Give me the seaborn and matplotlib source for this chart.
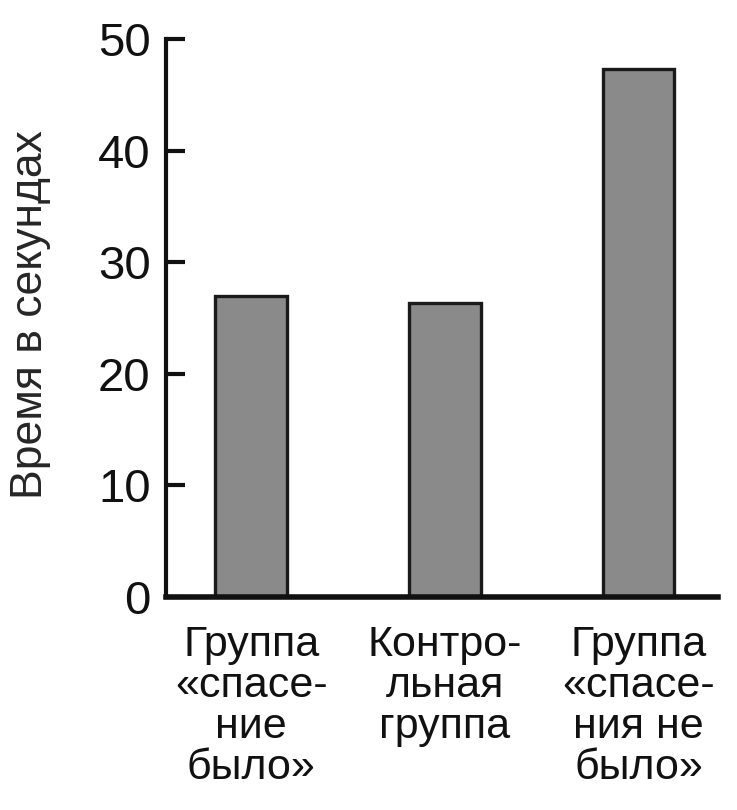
import matplotlib
matplotlib.use("Agg")
import matplotlib.pyplot as plt
import seaborn as sns
import pandas as pd

categories = ["Группа\n«спасе-\nние\nбыло»", "Контро-\nльная\nгруппа", "Группа\n«спасе-\nния не\nбыло»"]
values = [27.0, 26.3, 47.3]
yticks = [0, 10, 20, 30, 40, 50]
ylabel = "Время в секундах"

df = pd.DataFrame({"group": categories, "time": values})

sns.set_theme(style="white")
plt.rcParams['font.family'] = ['Liberation Sans', 'DejaVu Sans']

fig = plt.figure(figsize=(7.37, 8.10), dpi=100)
ax = fig.add_axes([166/737, 1-597/810, (718-166)/737, (597-39)/810])

sns.barplot(data=df, x="group", y="time", color="#8a8a8a", saturation=1,
            width=0.37, edgecolor="#1a1a1a", linewidth=2.4, ax=ax)

ax.set_ylim(0, 50)
ax.set_xlim(-0.44, 2.41)
ax.set_yticks(yticks)
ax.set_yticklabels([str(t) for t in yticks], fontsize=34)
ax.set_ylabel(ylabel, fontsize=32)
ax.yaxis.set_label_coords(-0.208, 0.506)
ax.set_xlabel("")
ax.tick_params(axis='y', direction='in', length=14, width=3, pad=11, left=True, colors='#111111')
ax.tick_params(axis='x', length=0, pad=20, labelsize=31, colors='#111111')
for lbl in ax.get_xticklabels():
    lbl.set_linespacing(1.04)
    lbl.set_multialignment('center')

for side in ['top', 'right']:
    ax.spines[side].set_visible(False)
ax.spines['left'].set_linewidth(3)
ax.spines['bottom'].set_linewidth(4)
ax.spines['left'].set_color('#111111')
ax.spines['bottom'].set_color('#111111')
ax.set_facecolor('white')

fig.savefig("out.png", dpi=100, facecolor='white')
